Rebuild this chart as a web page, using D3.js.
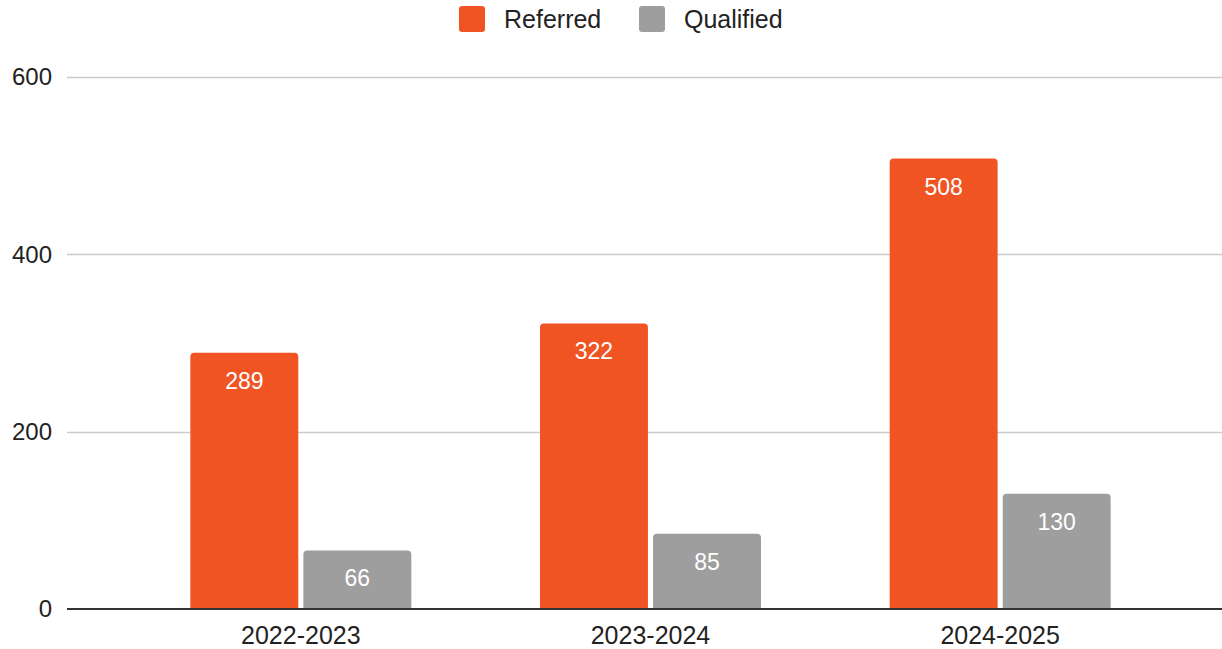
<!DOCTYPE html>
<html><head><meta charset="utf-8">
<script src="https://cdn.jsdelivr.net/npm/d3@7"></script>
<style>
html,body{margin:0;padding:0;background:#fff;}
svg{display:block;font-family:"Liberation Sans",Arial,sans-serif;}
</style></head>
<body><svg id="chart" width="1222" height="649"></svg>
<script>
const categories = ["2022-2023", "2023-2024", "2024-2025"];
const seriesNames = ["Referred", "Qualified"];
const referred = [289, 322, 508];
const qualified = [66, 85, 130];
const yTicks = [0, 200, 400, 600];
const colors = ["#f05423", "#9e9e9e"];

const svg = d3.select("#chart");
const plotLeft = 67, plotRight = 1222, plotTop = 77, plotBottom = 609;

const y = d3.scaleLinear().domain([0, 600]).range([plotBottom, plotTop]);
const x0 = d3.scaleBand().domain(categories).range([126, 1175]).paddingInner(0.368).paddingOuter(0.184);
const x1 = d3.scaleBand().domain(seriesNames).range([0, x0.bandwidth()]).paddingInner(0.045);

const seriesData = [referred, qualified];

// gridlines
svg.append("g").selectAll("line").data(yTicks.filter(d => d !== 0)).join("line")
  .attr("x1", plotLeft).attr("x2", plotRight)
  .attr("y1", d => Math.round(y(d)) + 0.5).attr("y2", d => Math.round(y(d)) + 0.5)
  .attr("stroke", "#cccccc").attr("stroke-width", 1.5);

// y labels
svg.append("g").selectAll("text").data(yTicks).join("text")
  .attr("x", 52).attr("y", d => y(d)).attr("dy", "0.35em")
  .attr("text-anchor", "end").attr("font-size", 24).attr("fill", "#222")
  .text(d => d);

function roundedTop(x, yTop, w, h, r) {
  r = Math.min(r, h, w / 2);
  return `M${x},${yTop + h}V${yTop + r}Q${x},${yTop} ${x + r},${yTop}H${x + w - r}Q${x + w},${yTop} ${x + w},${yTop + r}V${yTop + h}Z`;
}
const rows = [];
categories.forEach((c, i) => {
  seriesNames.forEach((s, j) => rows.push({cat: c, s, j, v: seriesData[j][i]}));
});
svg.append("g").selectAll("path").data(rows).join("path")
  .attr("d", d => roundedTop(x0(d.cat) + x1(d.s), y(d.v), x1.bandwidth(), y(0) - y(d.v), 4))
  .attr("fill", d => colors[d.j]);

// data labels
svg.append("g").selectAll("text").data(rows).join("text")
  .attr("x", d => x0(d.cat) + x1(d.s) + x1.bandwidth() / 2)
  .attr("y", d => y(d.v) + 36)
  .attr("text-anchor", "middle").attr("font-size", 23).attr("fill", "#ffffff")
  .text(d => d.v);

// baseline
svg.append("line").attr("x1", plotLeft).attr("x2", plotRight)
  .attr("y1", y(0)).attr("y2", y(0)).attr("stroke", "#333").attr("stroke-width", 2);

// x labels
svg.append("g").selectAll("text").data(categories).join("text")
  .attr("x", d => x0(d) + x0.bandwidth() / 2).attr("y", 644)
  .attr("text-anchor", "middle").attr("font-size", 25).attr("fill", "#222")
  .text(d => d);

// legend
const legendX = [459, 639];
const lg = svg.append("g");
seriesNames.forEach((s, j) => {
  lg.append("rect").attr("x", legendX[j]).attr("y", 6).attr("width", 26).attr("height", 26)
    .attr("rx", 3).attr("fill", colors[j]);
  lg.append("text").attr("x", legendX[j] + 45).attr("y", 19).attr("dy", "0.35em")
    .attr("font-size", 25).attr("fill", "#222").text(s);
});
</script></body></html>
